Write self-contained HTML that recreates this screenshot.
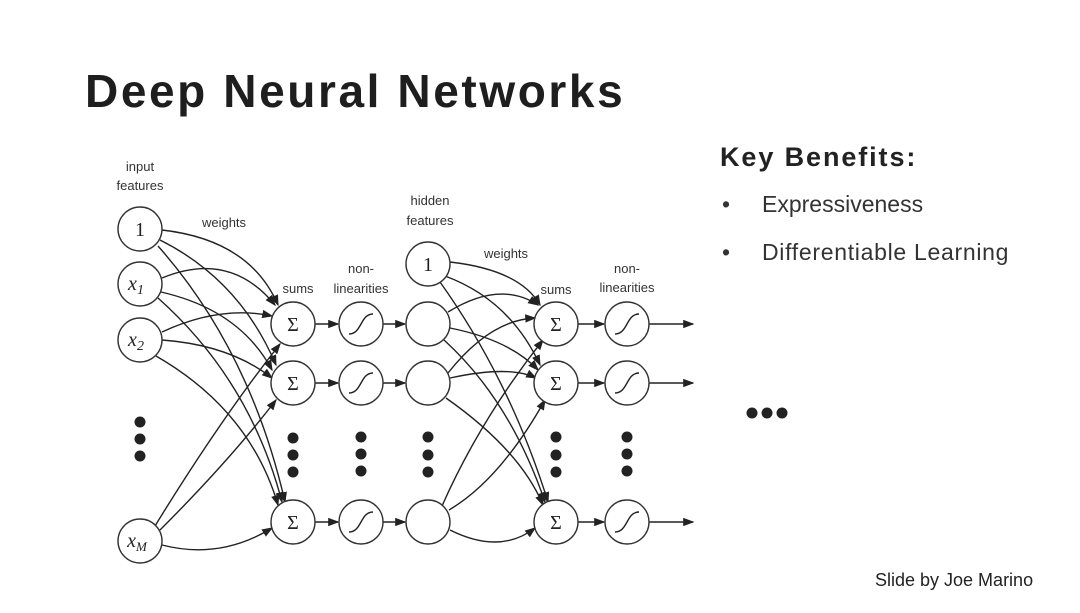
<!DOCTYPE html>
<html><head><meta charset="utf-8"><style>
body{margin:0;background:#fff;}
.p{position:relative;width:1080px;height:613px;overflow:hidden;font-family:"Liberation Sans",sans-serif;color:#222;}
.t{position:absolute;left:85px;top:64px;font-size:46px;letter-spacing:2.6px;font-weight:bold;color:#1e1e1e;}
.k{position:absolute;left:720px;top:142px;font-size:27px;letter-spacing:1.9px;font-weight:bold;}
.b{position:absolute;left:722px;font-size:23px;color:#333;}
.b span{display:inline-block;width:40px;}
.s{position:absolute;left:875px;top:570px;font-size:18px;color:#222;}
</style></head><body><div class="p">
<div class="t">Deep Neural Networks</div>
<div class="k">Key Benefits:</div>
<div class="b" style="top:191px"><span>•</span>Expressiveness</div>
<div class="b" style="top:239px"><span>•</span><span style="width:auto;letter-spacing:0.7px">Differentiable Learning</span></div>
<div class="s">Slide by Joe Marino</div>
<svg width="1080" height="613" style="position:absolute;left:0;top:0" font-family="Liberation Sans, sans-serif">
<defs><marker id="a" markerWidth="8" markerHeight="6" refX="7" refY="3" orient="auto"><path d="M0,0L8,3L0,6z" fill="#222"/></marker></defs>
<g fill="#222">
<circle cx="752" cy="413" r="5.5"/><circle cx="767" cy="413" r="5.5"/><circle cx="782" cy="413" r="5.5"/>
<circle cx="140" cy="422" r="5.5"/><circle cx="140" cy="439" r="5.5"/><circle cx="140" cy="456" r="5.5"/>
<circle cx="293" cy="438" r="5.5"/><circle cx="293" cy="455" r="5.5"/><circle cx="293" cy="472" r="5.5"/>
<circle cx="361" cy="437" r="5.5"/><circle cx="361" cy="454" r="5.5"/><circle cx="361" cy="471" r="5.5"/>
<circle cx="428" cy="437" r="5.5"/><circle cx="428" cy="455" r="5.5"/><circle cx="428" cy="472" r="5.5"/>
<circle cx="556" cy="437" r="5.5"/><circle cx="556" cy="455" r="5.5"/><circle cx="556" cy="472" r="5.5"/>
<circle cx="627" cy="437" r="5.5"/><circle cx="627" cy="454" r="5.5"/><circle cx="627" cy="471" r="5.5"/>
</g>
<g fill="none" stroke="#222" stroke-width="1.4" marker-end="url(#a)">
<path d="M162,230 Q250,240 278,305"/>
<path d="M160,240 Q240,280 276,365"/>
<path d="M158,246 Q250,350 285,502"/>
<path d="M162,278 Q230,250 275,305"/>
<path d="M161,292 Q240,310 272,370"/>
<path d="M158,298 Q250,380 282,502"/>
<path d="M162,332 Q220,305 272,316"/>
<path d="M162,340 Q230,345 272,378"/>
<path d="M156,356 Q250,410 278,505"/>
<path d="M155,526 Q220,420 280,344"/>
<path d="M160,530 Q230,460 276,400"/>
<path d="M162,545 Q220,560 272,528"/>
<path d="M450,262 Q520,270 540,305"/>
<path d="M445,276 Q510,300 540,365"/>
<path d="M440,282 Q510,380 548,502"/>
<path d="M448,312 Q500,280 538,305"/>
<path d="M450,328 Q510,340 538,370"/>
<path d="M444,340 Q510,400 545,502"/>
<path d="M448,373 Q490,320 535,318"/>
<path d="M450,378 Q510,365 536,378"/>
<path d="M446,398 Q520,450 543,505"/>
<path d="M442,506 Q480,420 543,340"/>
<path d="M449,510 Q500,480 545,400"/>
<path d="M450,530 Q500,555 535,528"/>
<path d="M315,324H338"/><path d="M315,383H338"/><path d="M315,522H338"/>
<path d="M383,324H405"/><path d="M383,383H405"/><path d="M383,522H405"/>
<path d="M578,324H604"/><path d="M578,383H604"/><path d="M578,522H604"/>
<path d="M649,324H693"/><path d="M649,383H693"/><path d="M649,522H693"/>
</g>
<g fill="#fff" stroke="#333" stroke-width="1.4">
<circle cx="140" cy="229" r="22"/><circle cx="140" cy="284" r="22"/><circle cx="140" cy="340" r="22"/><circle cx="140" cy="541" r="22"/>
<circle cx="293" cy="324" r="22"/><circle cx="293" cy="383" r="22"/><circle cx="293" cy="522" r="22"/>
<circle cx="361" cy="324" r="22"/><circle cx="361" cy="383" r="22"/><circle cx="361" cy="522" r="22"/>
<circle cx="428" cy="264" r="22"/><circle cx="428" cy="324" r="22"/><circle cx="428" cy="383" r="22"/><circle cx="428" cy="522" r="22"/>
<circle cx="556" cy="324" r="22"/><circle cx="556" cy="383" r="22"/><circle cx="556" cy="522" r="22"/>
<circle cx="627" cy="324" r="22"/><circle cx="627" cy="383" r="22"/><circle cx="627" cy="522" r="22"/>
</g>
<g fill="none" stroke="#222" stroke-width="1.4">
<path d="M349,334C362,334 360,314 373,314"/><path d="M349,393C362,393 360,373 373,373"/><path d="M349,532C362,532 360,512 373,512"/>
<path d="M615,334C628,334 626,314 639,314"/><path d="M615,393C628,393 626,373 639,373"/><path d="M615,532C628,532 626,512 639,512"/>
</g>
<g font-family="Liberation Serif, serif" font-size="20" fill="#222" text-anchor="middle">
<text x="140" y="236">1</text><text x="428" y="271">1</text>
<text x="136" y="290" font-style="italic">x<tspan font-size="14" dy="4">1</tspan></text>
<text x="136" y="346" font-style="italic">x<tspan font-size="14" dy="4">2</tspan></text>
<text x="137" y="547" font-style="italic">x<tspan font-size="13" dy="4">M</tspan></text>
<text x="293" y="331">Σ</text><text x="293" y="390">Σ</text><text x="293" y="529">Σ</text>
<text x="556" y="331">Σ</text><text x="556" y="390">Σ</text><text x="556" y="529">Σ</text>
</g>
<g font-size="13" fill="#333" text-anchor="middle">
<text x="140" y="171">input</text><text x="140" y="190">features</text>
<text x="224" y="227">weights</text>
<text x="298" y="293">sums</text>
<text x="361" y="273">non-</text><text x="361" y="293">linearities</text>
<text x="430" y="205">hidden</text><text x="430" y="225">features</text>
<text x="506" y="258">weights</text>
<text x="556" y="294">sums</text>
<text x="627" y="273">non-</text><text x="627" y="292">linearities</text>
</g>
</svg>
</div></body></html>
